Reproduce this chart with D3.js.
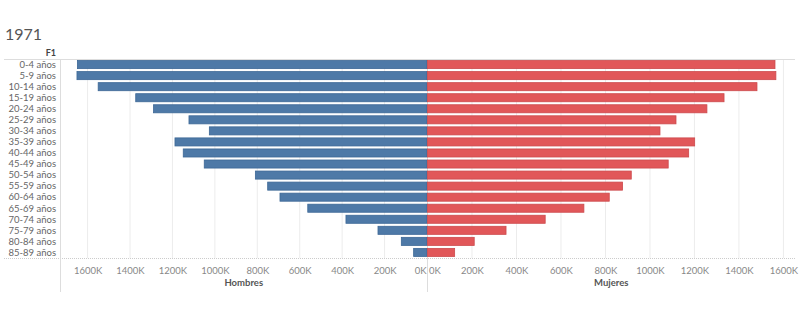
<!DOCTYPE html>
<html>
<head>
<meta charset="utf-8">
<script src="https://cdn.jsdelivr.net/npm/d3@7"></script>
<style>
  body { margin: 0; background: #fff; }
  svg { display: block; font-family: Lato, "Open Sans", sans-serif; }
</style>
</head>
<body>
<div class="main"></div>
<script>
const ageGroups = ["0-4 años", "5-9 años", "10-14 años", "15-19 años", "20-24 años", "25-29 años",
    "30-34 años", "35-39 años", "40-44 años", "45-49 años", "50-54 años", "55-59 años",
    "60-64 años", "65-69 años", "70-74 años", "75-79 años", "80-84 años", "85-89 años"];
const hombres = [1648000, 1650000, 1550000, 1373000, 1289000, 1122000, 1026000, 1188000, 1149000,
    1050000, 809000, 751000, 693000, 562000, 382000, 231000, 121000, 63000];
const mujeres = [1562000, 1566000, 1481000, 1333000, 1256000, 1117000, 1045000, 1201000, 1174000,
    1082000, 916000, 877000, 817000, 703000, 529000, 353000, 210000, 122000];
const tickValues = [0, 200000, 400000, 600000, 800000, 1000000, 1200000, 1400000, 1600000];
const maxHombres = 1730000;   // axis extents as Tableau drew them
const maxMujeres = 1652000;

const width = 800, height = 332;
const paneLeft = 60, paneMid = 427.5, paneRight = 795;
const paneTop = 59, paneBottom = 258;

const svg = d3.select(".main").append("svg")
    .attr("width", width)
    .attr("height", height);

svg.append("text")
    .text("1971")
    .attr("x", 5)
    .attr("y", 40)
    .attr("font-size", "16px")
    .attr("fill", "#555");

svg.append("text")
    .text("F1")
    .attr("x", 56)
    .attr("y", 56)
    .attr("text-anchor", "end")
    .attr("font-size", "9px")
    .attr("font-weight", "bold")
    .attr("fill", "#444");

const y = d3.scaleBand()
    .domain(ageGroups)
    .range([paneTop, paneBottom])
    .paddingInner(0.27)
    .paddingOuter(0.14);

const xL = d3.scaleLinear().domain([0, maxHombres]).range([paneMid - 0.5, paneLeft]);
const xR = d3.scaleLinear().domain([0, maxMujeres]).range([paneMid, paneRight]);

// gridlines
svg.append("g").selectAll("line")
    .data(tickValues.slice(1))
    .enter().append("line")
    .attr("x1", d => xL(d)).attr("x2", d => xL(d))
    .attr("y1", paneTop).attr("y2", paneBottom)
    .attr("stroke", "#ececec");

svg.append("g").selectAll("line")
    .data(tickValues.slice(1))
    .enter().append("line")
    .attr("x1", d => xR(d)).attr("x2", d => xR(d))
    .attr("y1", paneTop).attr("y2", paneBottom)
    .attr("stroke", "#ececec");

// frame lines
svg.append("line")
    .attr("x1", 4).attr("x2", paneRight)
    .attr("y1", paneTop + 0.5).attr("y2", paneTop + 0.5)
    .attr("stroke", "#ddd");

svg.append("line")
    .attr("x1", 4).attr("x2", paneRight)
    .attr("y1", paneBottom + 0.5).attr("y2", paneBottom + 0.5)
    .attr("stroke", "#ccc")
    .attr("stroke-dasharray", "1,1");

[paneLeft + 0.5, paneMid].forEach(x => {
    svg.append("line")
        .attr("x1", x).attr("x2", x)
        .attr("y1", paneTop).attr("y2", 292)
        .attr("stroke", "#ddd");
});

// row labels
svg.append("g").selectAll("text")
    .data(ageGroups)
    .enter().append("text")
    .text(d => d)
    .attr("x", 56)
    .attr("y", d => y(d) + y.bandwidth() / 2)
    .attr("dy", "0.35em")
    .attr("text-anchor", "end")
    .attr("font-size", "9.5px")
    .attr("fill", "#666");

// bars
svg.append("g").selectAll("rect")
    .data(hombres)
    .enter().append("rect")
    .attr("x", d => xL(d))
    .attr("y", (d, i) => y(ageGroups[i]))
    .attr("width", d => xL(0) - xL(d))
    .attr("height", y.bandwidth())
    .attr("fill", "#4e79a7")
    .attr("stroke", "#3d6896")
    .attr("stroke-width", 0.8);

svg.append("g").selectAll("rect")
    .data(mujeres)
    .enter().append("rect")
    .attr("x", xR(0))
    .attr("y", (d, i) => y(ageGroups[i]))
    .attr("width", d => xR(d) - xR(0))
    .attr("height", y.bandwidth())
    .attr("fill", "#e15759")
    .attr("stroke", "#cc4a4d")
    .attr("stroke-width", 0.8);

// axes
const fmt = d => (d / 1000) + "K";

const axisL = svg.append("g")
    .attr("transform", "translate(0," + paneBottom + ")")
    .call(d3.axisBottom(xL).tickValues(tickValues).tickFormat(fmt).tickSize(0).tickPadding(9));
const axisR = svg.append("g")
    .attr("transform", "translate(0," + paneBottom + ")")
    .call(d3.axisBottom(xR).tickValues(tickValues).tickFormat(fmt).tickSize(0).tickPadding(9));

[axisL, axisR].forEach(a => {
    a.select(".domain").remove();
    a.selectAll("text")
        .attr("font-family", "Lato, 'Open Sans', sans-serif")
        .attr("font-size", "9.5px")
        .attr("fill", "#888");
});
// the two 0K labels sit off-centre beside the divider
axisL.selectAll(".tick text").filter(d => d === 0).attr("text-anchor", "end").attr("dx", "-1");
axisR.selectAll(".tick text").filter(d => d === 0).attr("text-anchor", "start").attr("dx", "1");

svg.append("text")
    .text("Hombres")
    .attr("x", (paneLeft + paneMid) / 2)
    .attr("y", 286)
    .attr("text-anchor", "middle")
    .attr("font-size", "9.5px")
    .attr("font-weight", "bold")
    .attr("fill", "#555");

svg.append("text")
    .text("Mujeres")
    .attr("x", (paneMid + paneRight) / 2)
    .attr("y", 286)
    .attr("text-anchor", "middle")
    .attr("font-size", "9.5px")
    .attr("font-weight", "bold")
    .attr("fill", "#555");
</script>
</body>
</html>
